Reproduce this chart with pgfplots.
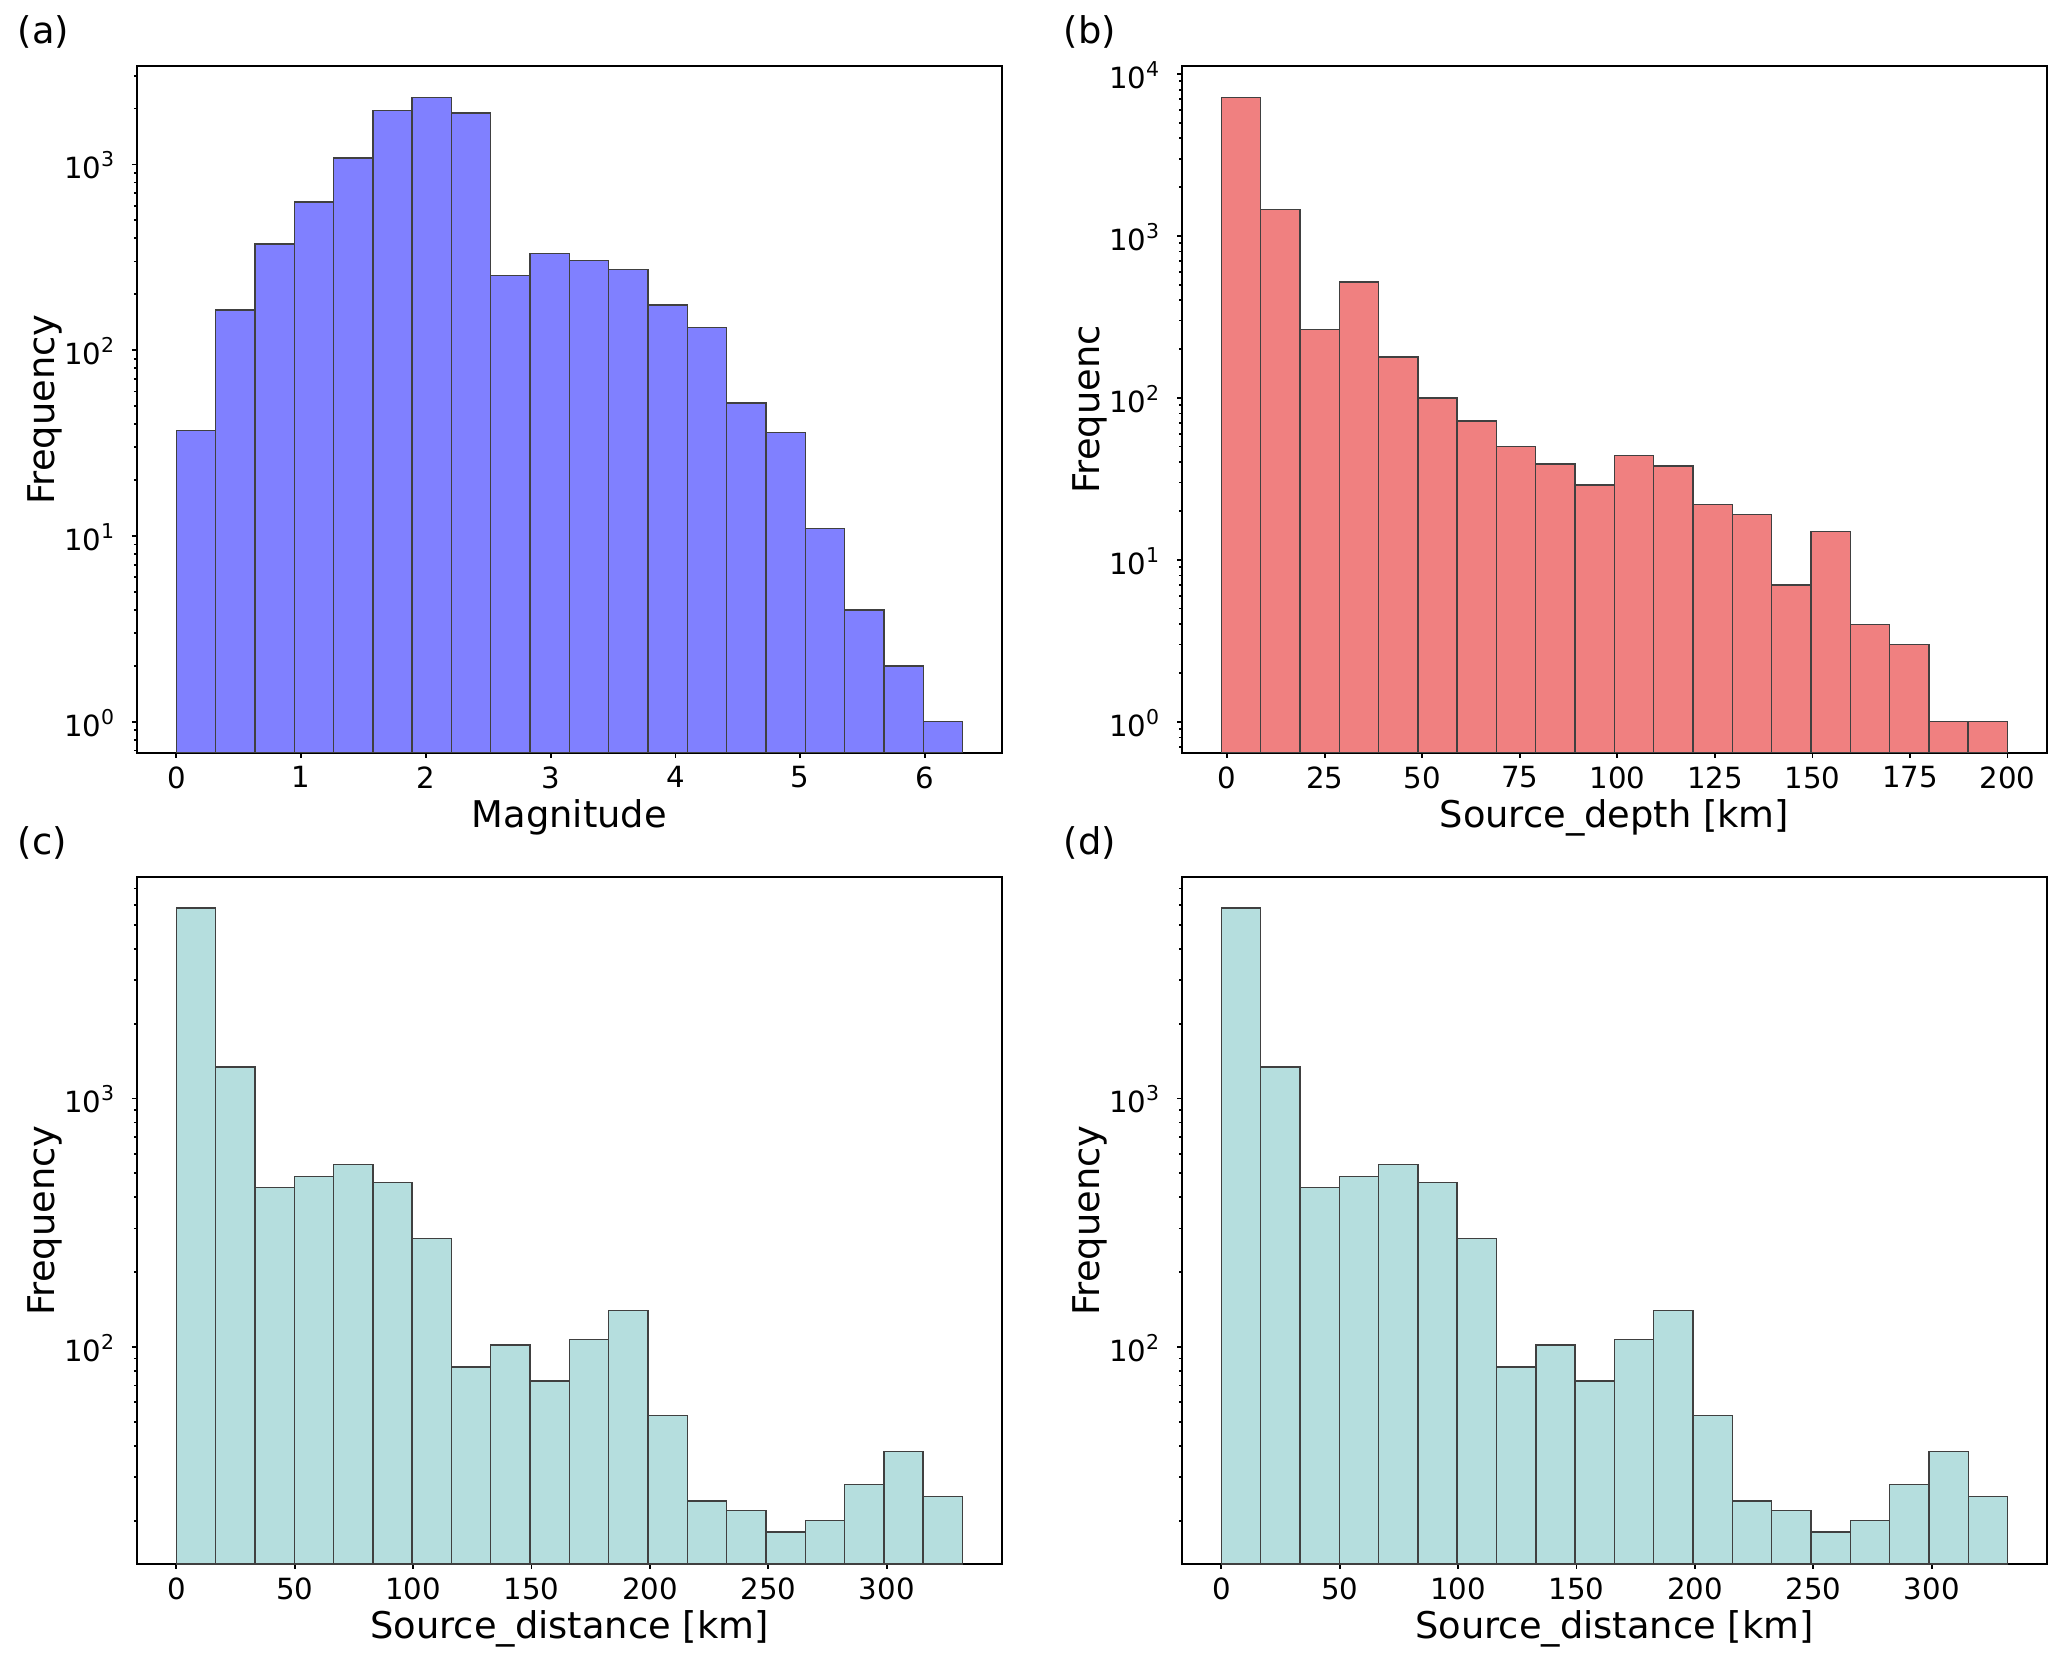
\documentclass[border=0pt]{standalone}
\usepackage{fontspec}
\setmainfont{DejaVu Sans}
\usepackage{pgfplots}
\pgfplotsset{compat=1.18}

\definecolor{magblue}{RGB}{128,128,255}
\definecolor{depthred}{RGB}{240,128,128}
\definecolor{distteal}{RGB}{181,222,222}

\newcommand{\ticksize}{\fontsize{7.3}{8.7}\selectfont}
\newcommand{\labsize}{\fontsize{9.2}{11}\selectfont}

% 1 px of the reference = 0.25pt
\pgfplotsset{
  histax/.style={
    scale only axis, width=216.2pt, height=171.75pt, anchor=south west,
    axis line style={line width=0.5pt},
    tick align=outside, tick pos=left,
    major tick length=1.25pt, minor tick length=0.75pt,
    every tick/.style={black, line width=0.45pt},
    tick label style={font=\ticksize},
    xticklabel style={anchor=north, inner sep=0pt, yshift=-1.9pt},
    yticklabel style={anchor=base east, inner sep=0pt, xshift=-3.75pt, yshift=-0.36em},
    xlabel style={font=\labsize, at={([yshift=-18.6pt]axis description cs:0.5,0)}, anchor=base, inner sep=0pt},
    ylabel style={font=\labsize, at={([xshift=-20.75pt]axis description cs:0,0.5)}, anchor=base, inner sep=0pt},
    /pgf/number format/assume math mode=true
  },
  hbar/.style={ybar interval, draw=black!75, line width=0.35pt},
}

\begin{document}
\begin{tikzpicture}
\useasboundingbox (0,0) rectangle (516.75pt,415.5pt);

% (a) magnitude
\begin{axis}[ymode=log, log origin y=infty, histax, at={(34.25pt,227.25pt)},
  xmin=-0.315, xmax=6.615, ymin=0.679, ymax=3388,
  xtick={0,1,2,3,4,5,6},
  ytick={1,10,100,1000},
  yticklabels={10\textsuperscript{0},10\textsuperscript{1},10\textsuperscript{2},10\textsuperscript{3}},
  minor ytick={0.7,0.8,0.9,2,3,4,5,6,7,8,9,20,30,40,50,60,70,80,90,200,300,400,500,600,700,800,900,2000,3000},
  xlabel={Magnitude}, ylabel={Frequency}]
\addplot[hbar, fill=magblue] coordinates {
  (0,37) (0.315,165) (0.63,373) (0.945,627) (1.26,1081) (1.575,1953)
  (1.89,2300) (2.205,1889) (2.52,253) (2.835,332) (3.15,303) (3.465,272)
  (3.78,175) (4.095,133) (4.41,52) (4.725,36) (5.04,11) (5.355,4)
  (5.67,2) (5.985,1) (6.3,1)
};
\end{axis}

% (b) source depth
\begin{axis}[ymode=log, log origin y=infty, histax, at={(295.5pt,227.25pt)},
  xmin=-11.575, xmax=210.075, ymin=0.641, ymax=11200,
  xtick={0,25,50,75,100,125,150,175,200},
  ytick={1,10,100,1000,10000},
  yticklabels={10\textsuperscript{0},10\textsuperscript{1},10\textsuperscript{2},10\textsuperscript{3},10\textsuperscript{4}},
  minor ytick={0.7,0.8,0.9,2,3,4,5,6,7,8,9,20,30,40,50,60,70,80,90,200,300,400,500,600,700,800,900,2000,3000,4000,5000,6000,7000,8000,9000},
  xlabel={Source\_depth [km]}, ylabel={Frequenc}]
\addplot[hbar, fill=depthred] coordinates {
  (-1.5,7180) (8.575,1455) (18.65,265) (28.725,518) (38.8,179) (48.875,100)
  (58.95,72) (69.025,50) (79.1,39) (89.175,29) (99.25,44) (109.325,38)
  (119.4,22) (129.475,19) (139.55,7) (149.625,15) (159.7,4) (169.775,3)
  (179.85,1) (189.925,1) (200,1)
};
\end{axis}

% (c) source distance
\begin{axis}[ymode=log, log origin y=infty, histax, at={(34.25pt,24.5pt)},
  xmin=-16.6, xmax=348.6, ymin=13.4, ymax=7780,
  xtick={0,50,100,150,200,250,300},
  ytick={100,1000},
  yticklabels={10\textsuperscript{2},10\textsuperscript{3}},
  minor ytick={20,30,40,50,60,70,80,90,200,300,400,500,600,700,800,900,2000,3000,4000,5000,6000,7000},
  xlabel={Source\_distance [km]}, ylabel={Frequency}]
\addplot[hbar, fill=distteal] coordinates {
  (0,5830) (16.6,1336) (33.2,438) (49.8,486) (66.4,541) (83,460)
  (99.6,274) (116.2,83) (132.8,102) (149.4,73) (166,107) (182.6,140)
  (199.2,53) (215.8,24) (232.4,22) (249,18) (265.6,20) (282.2,28)
  (298.8,38) (315.4,25) (332,25)
};
\end{axis}

% (d) source distance (repeated)
\begin{axis}[ymode=log, log origin y=infty, histax, at={(295.5pt,24.5pt)},
  xmin=-16.6, xmax=348.6, ymin=13.4, ymax=7780,
  xtick={0,50,100,150,200,250,300},
  ytick={100,1000},
  yticklabels={10\textsuperscript{2},10\textsuperscript{3}},
  minor ytick={20,30,40,50,60,70,80,90,200,300,400,500,600,700,800,900,2000,3000,4000,5000,6000,7000},
  xlabel={Source\_distance [km]}, ylabel={Frequency}]
\addplot[hbar, fill=distteal] coordinates {
  (0,5830) (16.6,1336) (33.2,438) (49.8,486) (66.4,541) (83,460)
  (99.6,274) (116.2,83) (132.8,102) (149.4,73) (166,107) (182.6,140)
  (199.2,53) (215.8,24) (232.4,22) (249,18) (265.6,20) (282.2,28)
  (298.8,38) (315.4,25) (332,25)
};
\end{axis}

\node[anchor=base west, inner sep=0pt, font=\labsize] at (4.25pt,404.6pt) {(a)};
\node[anchor=base west, inner sep=0pt, font=\labsize] at (265.75pt,404.6pt) {(b)};
\node[anchor=base west, inner sep=0pt, font=\labsize] at (4.25pt,201.9pt) {(c)};
\node[anchor=base west, inner sep=0pt, font=\labsize] at (265.75pt,201.9pt) {(d)};
\end{tikzpicture}
\end{document}
